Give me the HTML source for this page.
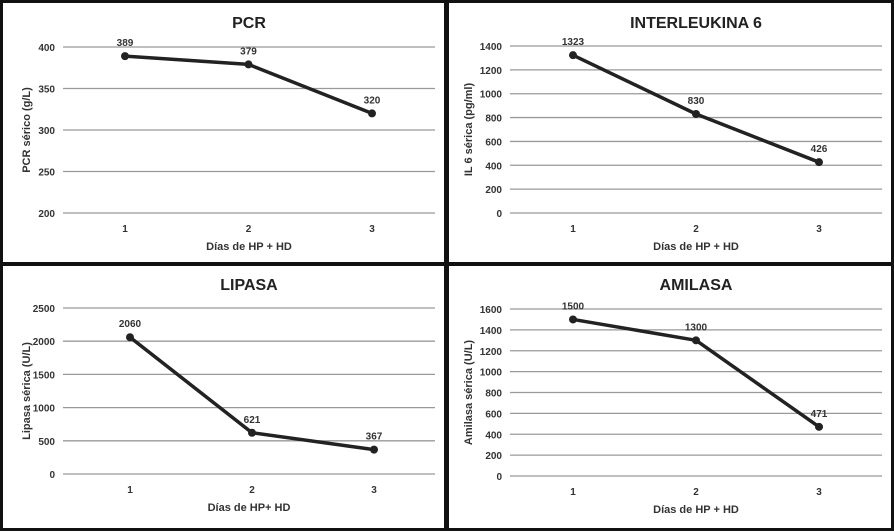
<!DOCTYPE html>
<html><head><meta charset="utf-8"><style>
html,body{margin:0;padding:0;background:#fff;}
svg{display:block;font-family:"Liberation Sans",sans-serif;}
</style></head><body>
<svg id="chart" width="894" height="532" viewBox="0 0 894 532">
<rect x="0" y="0" width="894" height="532" fill="#fff"/>
</svg>
<script>
const categories = ["1","2","3"];
const pcrValues = [389, 379, 320];
const pcrTicks = [200, 250, 300, 350, 400];
const il6Values = [1323, 830, 426];
const il6Ticks = [0, 200, 400, 600, 800, 1000, 1200, 1400];
const lipasaValues = [2060, 621, 367];
const lipasaTicks = [0, 500, 1000, 1500, 2000, 2500];
const amilasaValues = [1500, 1300, 471];
const amilasaTicks = [0, 200, 400, 600, 800, 1000, 1200, 1400, 1600];

const NS = "http://www.w3.org/2000/svg";
const svg = document.getElementById("chart");
function mk(tag, attrs, parent, text){
  const e = document.createElementNS(NS, tag);
  for (const k in attrs) e.setAttribute(k, attrs[k]);
  if (text !== undefined) e.textContent = text;
  (parent || svg).appendChild(e);
  return e;
}
function panel(cfg){
  const g = mk("g", {});
  
  
  const b = mk("rect", {x:cfg.bx, y:cfg.by, width:cfg.bw, height:cfg.bh, fill:"#fff", stroke:"#111", "stroke-width":3}, g);
  
  
  const ticks = cfg.ticks;
  const ymin = ticks[0], ymax = ticks[ticks.length-1];
  const yS = v => cfg.y0 + (v - ymin) / (ymax - ymin) * (cfg.y1 - cfg.y0);
  const xS = i => cfg.px[0] + i * (cfg.px[1] - cfg.px[0]) / (categories.length - 1);
  const t = mk("text", {x:(cfg.gx0+cfg.gx1)/2, y:cfg.ty, "text-anchor":"middle", "font-size":16, "font-weight":"bold", fill:"#222"}, g, cfg.title);
  
  
  ticks.forEach(v => {
    const gl = mk("line", {x1:cfg.gx0, x2:cfg.gx1, y1:yS(v), y2:yS(v), stroke:"#999", "stroke-width":1.3}, g);
    
    
    const tl = mk("text", {x:cfg.gx0-8, y:yS(v)+4, "text-anchor":"end", "font-size":10, "font-weight":"bold", fill:"#333"}, g, String(v));
    
    
  });
  categories.forEach((c, i) => {
    const xl = mk("text", {x:xS(i), y:cfg.y0+19, "text-anchor":"middle", "font-size":10, "font-weight":"bold", fill:"#333"}, g, c);
    
    
  });
  const xt = mk("text", {x:(cfg.gx0+cfg.gx1)/2, y:cfg.y0+37, "text-anchor":"middle", "font-size":11, "font-weight":"bold", fill:"#333"}, g, cfg.xTitle);
  
  
  const cy = (cfg.y0 + cfg.y1) / 2;
  const yt = mk("text", {x:cfg.ytx, y:cy, transform:`rotate(-90 ${cfg.ytx} ${cy})`, "text-anchor":"middle", "font-size":11, "font-weight":"bold", fill:"#333"}, g, cfg.yTitle);
  
  
  const pts = cfg.values.map((v, i) => xS(i) + "," + yS(v)).join(" ");
  const line = mk("polyline", {points:pts, fill:"none", stroke:"#222", "stroke-width":3.5, "stroke-linejoin":"round"}, g);
  
  
  cfg.values.forEach((v, i) => {
    const p = mk("circle", {cx:xS(i), cy:yS(v), r:4, fill:"#222"}, g);
    
    
    const l = mk("text", {x:xS(i), y:yS(v)-10, "text-anchor":"middle", "font-size":10, "font-weight":"bold", fill:"#333"}, g, String(v));
    
    
  });
}
panel({name:"pcr", title:"PCR", values:pcrValues, ticks:pcrTicks, bx:1.5, by:1.5, bw:444, bh:262, gx0:63, gx1:435, y0:213, y1:47, px:[125,372], ty:28, ytx:30, xTitle:"Días de HP + HD", yTitle:"PCR sérico (g/L)"});
panel({name:"interleukina", title:"INTERLEUKINA 6", values:il6Values, ticks:il6Ticks, bx:447.5, by:1.5, bw:445, bh:262, gx0:510, gx1:882, y0:213, y1:46, px:[573,819], ty:28, ytx:472, xTitle:"Días de HP + HD", yTitle:"IL 6 sérica (pg/ml)"});
panel({name:"lipasa", title:"LIPASA", values:lipasaValues, ticks:lipasaTicks, bx:1.5, by:264.5, bw:444, bh:265, gx0:63, gx1:435, y0:474, y1:308, px:[130,374], ty:290, ytx:30, xTitle:"Días de HP+ HD", yTitle:"Lipasa sérica (U/L)"});
panel({name:"amilasa", title:"AMILASA", values:amilasaValues, ticks:amilasaTicks, bx:447.5, by:264.5, bw:445, bh:265, gx0:510, gx1:882, y0:476, y1:309, px:[573,819], ty:290, ytx:472, xTitle:"Días de HP + HD", yTitle:"Amilasa sérica (U/L)"});
</script>
</body></html>
